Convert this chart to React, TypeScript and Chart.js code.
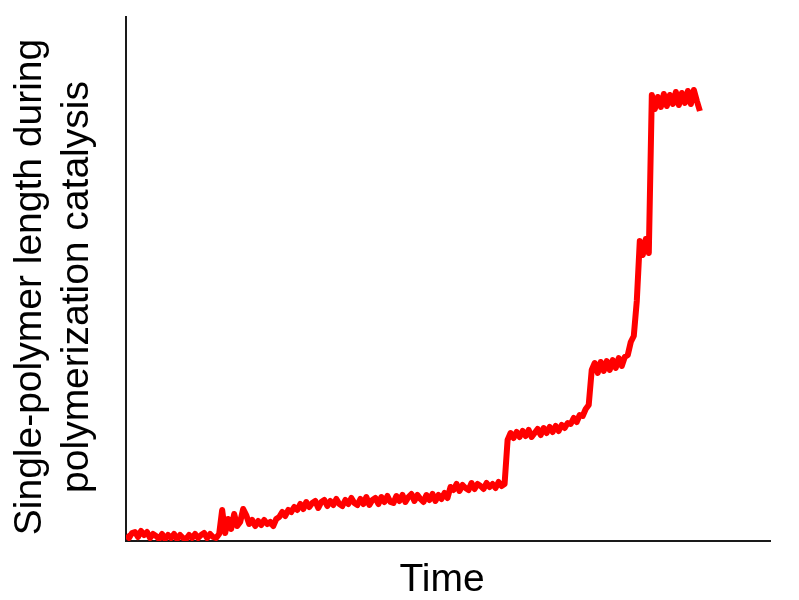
import React, { useEffect, useRef } from "react";
import { Chart, registerables } from "chart.js";

Chart.register(...registerables);

// Time (arbitrary units)
const timeValues: number[] = [
  0, 3, 6, 9, 12, 15, 18, 21, 24, 27, 30, 33, 36, 39, 42, 45, 48, 51, 54, 57,
  60, 63, 66, 69, 72, 75, 78, 81, 84, 87, 90, 93, 96, 99, 102, 105, 108, 111, 114, 117,
  120, 123, 126, 129, 132, 135, 138, 141, 144, 147, 150, 153, 156, 159, 162, 165, 168, 171, 174, 177,
  180, 183, 186, 189, 192, 195, 198, 201, 204, 207, 210, 213, 216, 219, 222, 225, 228, 231, 234, 237,
  240, 243, 246, 249, 252, 255, 258, 261, 264, 267, 270, 273, 276, 279, 282, 285, 288, 291, 294, 297,
  300, 303, 306, 309, 312, 315, 318, 321, 324, 327, 330, 333, 336, 339, 342, 345, 348, 351, 354, 357,
  360, 363, 366, 369, 372, 375, 378, 381, 384, 387, 390, 393, 396, 399, 402, 405, 408, 411, 414, 417,
  420, 423, 426, 429, 432, 435, 438, 441, 444, 447, 450, 453, 456, 459, 462, 465, 468, 471, 474, 477,
  480, 483, 486, 489, 492, 495, 498, 501, 504, 507, 510, 513, 516, 519, 522, 525, 528, 531, 534, 537,
  540, 543, 546, 549, 552, 555, 558, 561, 564, 567, 570, 573,
];

// Single-polymer length (arbitrary units)
const lengthValues: number[] = [
  6, 3, 8, 9, 4, 10, 6, 9, 3, 7, 5, 2, 7, 2, 6, 3, 7, 2, 6, 3,
  2, 6, 3, 7, 3, 6, 8, 3, 7, 4, 3, 7, 31, 8, 22, 12, 27, 15, 19, 32,
  26, 17, 21, 15, 20, 16, 21, 17, 19, 15, 22, 24, 29, 25, 31, 29, 34, 31, 37, 32,
  39, 34, 38, 40, 33, 39, 41, 35, 40, 36, 42, 37, 35, 41, 37, 43, 38, 36, 42, 37,
  44, 36, 41, 43, 37, 44, 39, 45, 39, 38, 45, 40, 46, 39, 44, 47, 40, 46, 42, 39,
  46, 41, 47, 40, 46, 42, 48, 43, 54, 51, 57, 50, 56, 53, 51, 58, 52, 57, 55, 52,
  58, 54, 57, 53, 59, 55, 57, 101, 108, 103, 109, 104, 110, 105, 111, 104, 108, 112, 106, 113,
  108, 114, 109, 115, 110, 116, 113, 118, 117, 123, 119, 126, 125, 132, 136, 171, 178, 168, 179, 170,
  180, 171, 181, 173, 183, 175, 184, 186, 199, 205, 240, 300, 286, 302, 288, 446, 432, 444, 434, 447,
  435, 446, 437, 449, 436, 448, 438, 450, 437, 451, 440, 430,
];

const xTitle = "Time";
const yTitle = ["Single-polymer length during", "polymerization catalysis"];

const FONT = "39px 'Liberation Sans', Arial, sans-serif";

const axisTitles = {
  id: "axisTitles",
  afterDraw(chart: any) {
    const { ctx, chartArea } = chart;
    ctx.save();
    ctx.fillStyle = "#000";
    ctx.font = FONT;
    ctx.textAlign = "center";
    ctx.textBaseline = "middle";
    // x-axis title, centred under the plot area
    ctx.fillText(xTitle, (chartArea.left + chartArea.right) / 2 - 6, chartArea.bottom + 39);
    // y-axis title, two rotated lines
    ctx.translate(chartArea.left - 96, (chartArea.top + chartArea.bottom) / 2 + 8);
    ctx.rotate(-Math.PI / 2);
    yTitle.forEach((line, i) => ctx.fillText(line, 0, i * 47));
    ctx.restore();
  },
};

export default function App() {
  const canvasRef = useRef<HTMLCanvasElement | null>(null);

  useEffect(() => {
    const canvas = canvasRef.current;
    if (!canvas) return;
    const points = timeValues.map((t, i) => ({ x: t, y: lengthValues[i] }));
    const chart = new Chart(canvas, {
      type: "line",
      data: {
        datasets: [
          {
            data: points,
            borderColor: "#ff0000",
            backgroundColor: "#ff0000",
            borderWidth: 6,
            borderJoinStyle: "round",
            borderCapStyle: "butt",
            pointRadius: 0,
            tension: 0,
            fill: false,
          },
        ],
      },
      options: {
        responsive: false,
        animation: false,
        layout: { padding: { top: 17, right: 29, left: 126, bottom: 59 } },
        plugins: {
          legend: { display: false },
          tooltip: { enabled: false },
        },
        scales: {
          x: {
            type: "linear",
            min: 0,
            max: 643,
            grid: { display: false, drawTicks: false },
            ticks: { display: false },
            border: { display: true, color: "#1a1a1a", width: 2 },
            title: { display: false },
          },
          y: {
            type: "linear",
            min: 0,
            max: 524,
            grid: { display: false, drawTicks: false },
            ticks: { display: false },
            border: { display: true, color: "#1a1a1a", width: 2 },
            title: { display: false },
          },
        },
      },
      plugins: [axisTitles],
    });
    return () => chart.destroy();
  }, []);

  return (
    <div style={{ position: "absolute", left: 0, top: 0, width: 799, height: 600, background: "#fff" }}>
      <canvas ref={canvasRef} width={799} height={600} />
    </div>
  );
}
